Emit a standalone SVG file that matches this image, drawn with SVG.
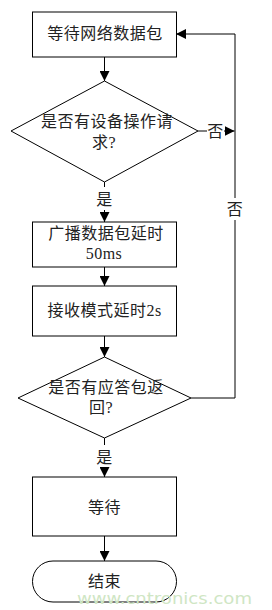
<svg xmlns="http://www.w3.org/2000/svg" width="272" height="610" viewBox="0 0 272 610">
<style>
.s{fill:#fff;stroke:#000;stroke-width:1}
.l{fill:none;stroke:#000;stroke-width:1}
.t{font-family:"Liberation Serif","Noto Sans CJK SC",serif;font-size:16px;fill:#222;text-anchor:middle;dominant-baseline:central;letter-spacing:0.5px}
.w{font-family:"DejaVu Sans","Liberation Sans",sans-serif;font-size:16px;fill:#cfe6c4;text-anchor:start}
</style>
<defs>
<marker id="a" viewBox="0 0 10 10" refX="10" refY="5" markerWidth="10" markerHeight="10" markerUnits="userSpaceOnUse" orient="auto">
<path d="M0,0L10,5L0,10z" fill="#000"/>
</marker>
</defs>
<rect width="272" height="610" fill="#fff"/>
<g id="connectors">
<line class="l" x1="104.5" y1="57" x2="104.5" y2="81" marker-end="url(#a)"/>
<line class="l" x1="104.5" y1="182" x2="104.5" y2="187"/>
<line class="l" x1="104.5" y1="210" x2="104.5" y2="222" marker-end="url(#a)"/>
<line class="l" x1="104.5" y1="267" x2="104.5" y2="286" marker-end="url(#a)"/>
<line class="l" x1="104.5" y1="336" x2="104.5" y2="357" marker-end="url(#a)"/>
<line class="l" x1="104.5" y1="438" x2="104.5" y2="445"/>
<line class="l" x1="104.5" y1="467" x2="104.5" y2="477" marker-end="url(#a)"/>
<line class="l" x1="104.5" y1="536" x2="104.5" y2="561" marker-end="url(#a)"/>
<line class="l" x1="198" y1="131" x2="207" y2="131"/>
<line class="l" x1="224" y1="131" x2="234.5" y2="131" marker-end="url(#a)"/>
<polyline class="l" points="191,398 235,398 235,220"/>
<polyline class="l" points="235,198 235,34 176,34" marker-end="url(#a)"/>
<text class="t" x="215.5" y="131">否</text>
<text class="t" x="235" y="209">否</text>
<text class="t" x="104.5" y="199">是</text>
<text class="t" x="104.5" y="457">是</text>
</g>
<g id="n1">
<rect class="s" x="32.5" y="12" width="144" height="45"/>
<text class="t" x="105" y="33">等待网络数据包</text>
</g>
<g id="n2">
<polygon class="s" points="104.5,81 198,131 104.5,182 11,131"/>
<text class="t" x="107" y="121">是否有设备操作请</text>
<text class="t" x="104" y="142">求?</text>
</g>
<g id="n3">
<rect class="s" x="32.5" y="222" width="144" height="45"/>
<text class="t" x="106" y="233">广播数据包延时</text>
<text class="t" x="104" y="253">50ms</text>
</g>
<g id="n4">
<rect class="s" x="32.5" y="286" width="144" height="50"/>
<text class="t" x="104.5" y="310">接收模式延时2s</text>
</g>
<g id="n5">
<polygon class="s" points="104.5,357 191,398 104.5,438 18,398"/>
<text class="t" x="106" y="387">是否有应答包返</text>
<text class="t" x="101" y="407">回?</text>
</g>
<g id="n6">
<rect class="s" x="32.5" y="477" width="144" height="59"/>
<text class="t" x="104.5" y="507">等待</text>
</g>
<g id="n7">
<rect class="s" x="32.5" y="561" width="144" height="41" rx="20.5" ry="20.5"/>
<text class="t" x="104.5" y="581">结束</text>
</g>
<text class="w" x="77" y="604" textLength="175" lengthAdjust="spacingAndGlyphs">www.cntronics.com</text>
</svg>
